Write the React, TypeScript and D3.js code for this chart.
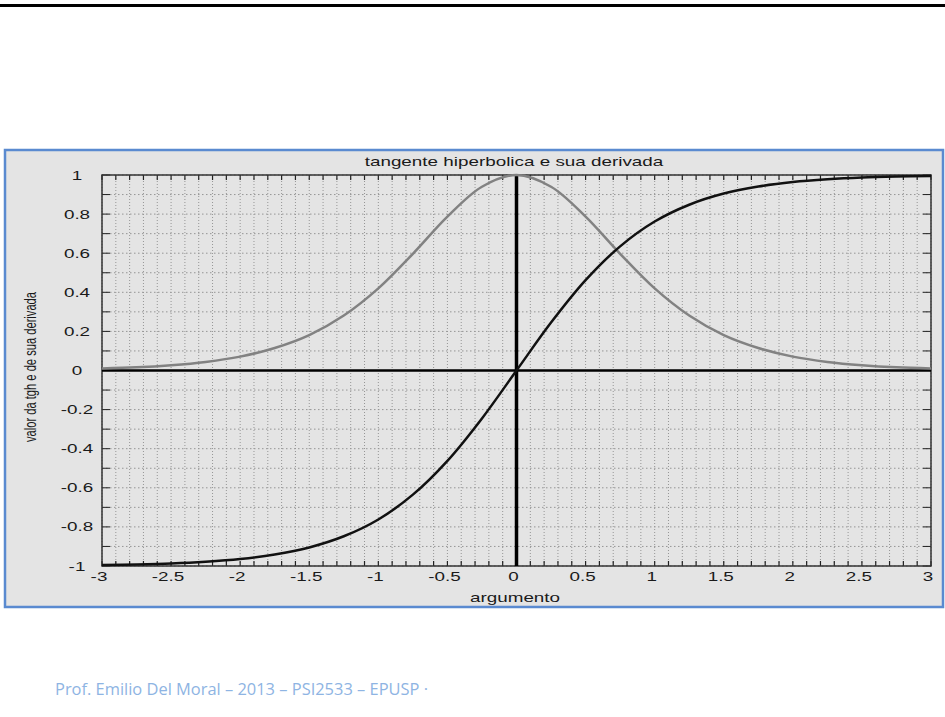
import * as d3 from 'd3';

// valores (passo 0.25)
const argumento = [-3, -2.75, -2.5, -2.25, -2, -1.75, -1.5, -1.25, -1, -0.75, -0.5, -0.25, 0, 0.25, 0.5, 0.75, 1, 1.25, 1.5, 1.75, 2, 2.25, 2.5, 2.75, 3];
const tgh = [-0.995, -0.992, -0.987, -0.978, -0.964, -0.941, -0.905, -0.848, -0.762, -0.635, -0.462, -0.245, 0, 0.245, 0.462, 0.635, 0.762, 0.848, 0.905, 0.941, 0.964, 0.978, 0.987, 0.992, 0.995];
const derivada = [0.010, 0.016, 0.027, 0.044, 0.071, 0.115, 0.181, 0.281, 0.420, 0.597, 0.787, 0.940, 1, 0.940, 0.787, 0.597, 0.420, 0.281, 0.181, 0.115, 0.071, 0.044, 0.027, 0.016, 0.010];

const xTicks = [-3, -2.5, -2, -1.5, -1, -0.5, 0, 0.5, 1, 1.5, 2, 2.5, 3];
const yTicks = [-1, -0.8, -0.6, -0.4, -0.2, 0, 0.2, 0.4, 0.6, 0.8, 1];

const title = 'tangente hiperbolica e sua derivada';
const xLabel = 'argumento';
const yLabel = 'valor da tgh e de sua derivada';
const footer = 'Prof. Emilio Del Moral – 2013 – PSI2533 – EPUSP ·';

export default function App() {
  const width = 945;
  const height = 717;
  const left = 102, right = 931, top = 175, bottom = 566;
  // a figura original aparece esticada na horizontal
  const sx = 1.45;

  const x = d3.scaleLinear().domain([-3, 3]).range([left, right]);
  const y = d3.scaleLinear().domain([-1, 1]).range([bottom, top]);

  const minorX = d3.range(-30, 31).map(i => i / 10);
  const minorY = d3.range(-10, 11).map(i => i / 10);

  const line = d3.line<number>()
    .x((_, i) => x(argumento[i]))
    .y(d => y(d))
    .curve(d3.curveCatmullRom);

  const font = '"Liberation Sans", Arial, sans-serif';

  return (
    <svg width={width} height={height} style={{ position: 'absolute', left: 0, top: 0 }}>
      <rect x={0} y={0} width={width} height={height} fill="#fff" />
      {/* linha preta do slide */}
      <rect x={0} y={4} width={width} height={3} fill="#000" />

      {/* moldura da figura */}
      <rect x={5} y={150} width={938} height={457} fill="#e4e4e4" stroke="#5a8ad0" strokeWidth={2.5} />

      {/* grade pontilhada */}
      {minorX.map(v => (
        <line key={'gx' + v} x1={x(v)} x2={x(v)} y1={top} y2={bottom} stroke="#959595" strokeWidth={1} strokeDasharray="1,2" />
      ))}
      {minorY.map(v => (
        <line key={'gy' + v} x1={left} x2={right} y1={y(v)} y2={y(v)} stroke="#959595" strokeWidth={1} strokeDasharray="1.5,2.5" />
      ))}

      {/* marcas dos eixos */}
      {minorX.map(v => (
        <g key={'tx' + v}>
          <line x1={x(v)} x2={x(v)} y1={top} y2={top + 5} stroke="#222" strokeWidth={1.2} />
          <line x1={x(v)} x2={x(v)} y1={bottom} y2={bottom - 5} stroke="#222" strokeWidth={1.2} />
        </g>
      ))}
      {minorY.map(v => (
        <g key={'ty' + v}>
          <line x1={left} x2={left + 8} y1={y(v)} y2={y(v)} stroke="#222" strokeWidth={1} />
          <line x1={right} x2={right - 8} y1={y(v)} y2={y(v)} stroke="#222" strokeWidth={1} />
        </g>
      ))}

      <rect x={left} y={top} width={right - left} height={bottom - top} fill="none" stroke="#333" strokeWidth={1.5} />

      {/* eixos x=0 e y=0 */}
      <line x1={left} x2={right} y1={y(0)} y2={y(0)} stroke="#000" strokeWidth={2.5} />
      <line x1={x(0)} x2={x(0)} y1={top} y2={bottom} stroke="#000" strokeWidth={3.5} />

      {/* curvas */}
      <path d={line(derivada) || ''} fill="none" stroke="#828282" strokeWidth={2.5} />
      <path d={line(tgh) || ''} fill="none" stroke="#111" strokeWidth={2.5} />

      {/* rotulos */}
      {xTicks.map(v => (
        <text key={'lx' + v} transform={`translate(${x(v) - 3},581) scale(${sx},1)`} textAnchor="middle" fontFamily={font} fontSize={13} fill="#1a1a1a">
          {String(v)}
        </text>
      ))}
      {yTicks.map(v => (
        <text key={'ly' + v} transform={`translate(77,${y(v) + 4.5}) scale(${sx},1)`} textAnchor="middle" fontFamily={font} fontSize={13} fill="#1a1a1a">
          {String(v)}
        </text>
      ))}

      <text transform={`translate(514,166) scale(${sx},1)`} textAnchor="middle" fontFamily={font} fontSize={13} fill="#1a1a1a">{title}</text>
      <text transform={`translate(515,602) scale(${sx},1)`} textAnchor="middle" fontFamily={font} fontSize={13} fill="#1a1a1a">{xLabel}</text>
      <text transform={`translate(36,367) scale(${sx},1) rotate(-90)`} textAnchor="middle" fontFamily={font} fontSize={11} fill="#1a1a1a" textLength={150} lengthAdjust="spacingAndGlyphs">{yLabel}</text>

      <text x={55} y={695} fontFamily={'"Open Sans", "Liberation Sans", sans-serif'} fontSize={16.5} fill="#8eb4e3" textLength={373} lengthAdjust="spacingAndGlyphs">{footer}</text>
    </svg>
  );
}
